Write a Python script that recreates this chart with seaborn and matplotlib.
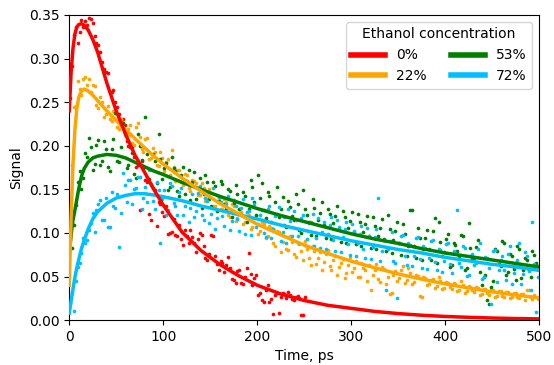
import matplotlib
matplotlib.use("Agg")
import matplotlib.pyplot as plt
import seaborn as sns
import pandas as pd

# measured points (ps): two interleaved sampling grids
t_pts = [1, 5, 9, 13, 17, 21, 25, 29, 33, 37,
         41, 45, 49, 53, 57, 61, 65, 69, 73, 77,
         81, 85, 89, 93, 97, 101, 105, 109, 113, 117,
         121, 125, 129, 133, 137, 141, 145, 149, 153, 157,
         161, 165, 169, 173, 177, 181, 185, 189, 193, 197,
         201, 205, 209, 213, 217, 221, 225, 229, 233, 237,
         241, 245, 249, 253, 257, 261, 265, 269, 273, 277,
         281, 285, 289, 293, 297, 301, 305, 309, 313, 317,
         321, 325, 329, 333, 337, 341, 345, 349, 353, 357,
         361, 365, 369, 373, 377, 381, 385, 389, 393, 397,
         401, 405, 409, 413, 417, 421, 425, 429, 433, 437,
         441, 445, 449, 453, 457, 461, 465, 469, 473, 477,
         481, 485, 489, 493, 497]
t_pts2 = [3, 7, 11, 15, 19, 23, 27, 31, 35, 39,
          43, 47, 51, 55, 59, 63, 67, 71, 75, 79,
          83, 87, 91, 95, 99, 103, 107, 111, 115, 119,
          123, 127, 131, 135, 139, 143, 147, 151, 155, 159,
          163, 167, 171, 175, 179, 183, 187, 191, 195, 199,
          203, 207, 211, 215, 219, 223, 227, 231, 235, 239,
          243, 247, 251, 255, 259, 263, 267, 271, 275, 279,
          283, 287, 291, 295, 299, 303, 307, 311, 315, 319,
          323, 327, 331, 335, 339, 343, 347, 351, 355, 359,
          363, 367, 371, 375, 379, 383, 387, 391, 395, 399,
          403, 407, 411, 415, 419, 423, 427, 431, 435, 439,
          443, 447, 451, 455, 459, 463, 467, 471, 475, 479,
          483, 487, 491, 495, 499]

sig_0 = [0.255, 0.327, 0.318, 0.344, 0.343, 0.347, 0.341, 0.318, 0.307, 0.288,
         0.283, 0.262, 0.250, 0.236, 0.231, 0.205, 0.213, 0.187, 0.178, 0.183,
         0.161, 0.122, 0.152, 0.108, 0.133, 0.119, 0.099, 0.101, 0.098, 0.109,
         0.086, 0.097, 0.103, 0.089, 0.093, 0.098, 0.071, 0.076, 0.097, 0.064,
         0.068, 0.055, 0.072, 0.047, 0.043, 0.058, 0.041, 0.060, 0.053, 0.048,
         0.029, 0.023, 0.034, 0.021, 0.007, 0.031, 0.026, 0.030, 0.032, 0.024,
         0.026, 0.025, 0.006]
sig_0b = [0.292, 0.336, 0.331, 0.336, 0.338, 0.345, 0.326, 0.315, 0.296, 0.285,
          0.262, 0.264, 0.244, 0.230, 0.224, 0.200, 0.199, 0.176, 0.126, 0.175,
          0.158, 0.115, 0.149, 0.135, 0.124, 0.131, 0.100, 0.116, 0.096, 0.093,
          0.103, 0.089, 0.095, 0.078, 0.100, 0.085, 0.069, 0.098, 0.074, 0.058,
          0.066, 0.063, 0.060, 0.046, 0.056, 0.042, 0.050, 0.077, 0.040, 0.052,
          0.031, 0.021, 0.040, 0.024, 0.029, 0.008, 0.031, 0.025, 0.029, 0.023,
          0.028, 0.006, 0.027]

sig_22 = [0.102, 0.244, 0.274, 0.258, 0.279, 0.276, 0.270, 0.247, 0.256, 0.233,
          0.246, 0.228, 0.237, 0.219, 0.226, 0.212, 0.224, 0.201, 0.226, 0.196,
          0.208, 0.185, 0.197, 0.178, 0.193, 0.171, 0.185, 0.195, 0.160, 0.172,
          0.155, 0.166, 0.148, 0.160, 0.143, 0.157, 0.137, 0.150, 0.131, 0.144,
          0.127, 0.139, 0.121, 0.133, 0.114, 0.128, 0.110, 0.124, 0.104, 0.117,
          0.099, 0.112, 0.094, 0.108, 0.089, 0.102, 0.078, 0.096, 0.080, 0.090,
          0.072, 0.087, 0.069, 0.082, 0.063, 0.079, 0.071, 0.058, 0.076, 0.062,
          0.069, 0.052, 0.066, 0.048, 0.063, 0.055, 0.068, 0.050, 0.060, 0.045,
          0.034, 0.058, 0.047, 0.061, 0.041, 0.030, 0.052, 0.045, 0.058, 0.043,
          0.060, 0.041, 0.052, 0.028, 0.049, 0.040, 0.046, 0.037, 0.050, 0.036,
          0.044, 0.038, 0.042, 0.033, 0.045, 0.031, 0.039, 0.034, 0.038, 0.029,
          0.036, 0.031, 0.035, 0.027, 0.033, 0.028, 0.032, 0.025, 0.031, 0.027,
          0.030, 0.023, 0.034, 0.024, 0.027]
sig_22b = [0.178, 0.246, 0.265, 0.277, 0.270, 0.262, 0.268, 0.243, 0.250, 0.236,
           0.231, 0.240, 0.221, 0.231, 0.212, 0.219, 0.203, 0.221, 0.210, 0.193,
           0.209, 0.186, 0.193, 0.177, 0.186, 0.181, 0.166, 0.176, 0.172, 0.158,
           0.168, 0.152, 0.161, 0.157, 0.144, 0.151, 0.139, 0.146, 0.131, 0.140,
           0.128, 0.136, 0.118, 0.131, 0.117, 0.124, 0.112, 0.121, 0.107, 0.118,
           0.102, 0.110, 0.096, 0.106, 0.085, 0.101, 0.090, 0.082, 0.097, 0.076,
           0.088, 0.079, 0.091, 0.071, 0.085, 0.064, 0.078, 0.067, 0.080, 0.057,
           0.074, 0.061, 0.070, 0.054, 0.072, 0.060, 0.049, 0.066, 0.057, 0.063,
           0.052, 0.064, 0.044, 0.059, 0.050, 0.031, 0.056, 0.048, 0.062, 0.046,
           0.054, 0.044, 0.051, 0.027, 0.048, 0.041, 0.047, 0.039, 0.045, 0.037,
           0.043, 0.036, 0.041, 0.034, 0.040, 0.033, 0.038, 0.032, 0.037, 0.030,
           0.036, 0.029, 0.034, 0.028, 0.033, 0.027, 0.032, 0.026, 0.031, 0.025,
           0.030, 0.035, 0.026, 0.029, 0.024]

sig_53 = [0.095, 0.109, 0.158, 0.150, 0.192, 0.209, 0.172, 0.201, 0.178, 0.205,
          0.176, 0.196, 0.237, 0.181, 0.226, 0.174, 0.199, 0.168, 0.213, 0.184,
          0.233, 0.162, 0.190, 0.157, 0.185, 0.175, 0.149, 0.187, 0.171, 0.142,
          0.176, 0.160, 0.138, 0.170, 0.152, 0.129, 0.166, 0.139, 0.158, 0.125,
          0.160, 0.133, 0.150, 0.118, 0.155, 0.128, 0.147, 0.113, 0.161, 0.135,
          0.166, 0.157, 0.117, 0.142, 0.104, 0.153, 0.128, 0.109, 0.137, 0.119,
          0.145, 0.103, 0.149, 0.121, 0.098, 0.129, 0.115, 0.136, 0.094, 0.122,
          0.111, 0.131, 0.090, 0.118, 0.106, 0.124, 0.087, 0.113, 0.101, 0.119,
          0.083, 0.108, 0.097, 0.116, 0.079, 0.105, 0.092, 0.112, 0.075, 0.099,
          0.085, 0.126, 0.071, 0.094, 0.081, 0.103, 0.069, 0.117, 0.112, 0.074,
          0.093, 0.061, 0.088, 0.079, 0.098, 0.057, 0.111, 0.070, 0.084, 0.055,
          0.049, 0.023, 0.038, 0.082, 0.064, 0.091, 0.052, 0.076, 0.059, 0.085,
          0.048, 0.071, 0.057, 0.079, 0.066]
sig_53b = [0.083, 0.132, 0.171, 0.163, 0.187, 0.199, 0.179, 0.207, 0.183, 0.196,
           0.171, 0.208, 0.183, 0.199, 0.215, 0.178, 0.192, 0.163, 0.200, 0.176,
           0.191, 0.155, 0.183, 0.214, 0.162, 0.180, 0.153, 0.174, 0.148, 0.167,
           0.145, 0.172, 0.158, 0.139, 0.163, 0.145, 0.158, 0.131, 0.154, 0.137,
           0.156, 0.127, 0.148, 0.134, 0.145, 0.121, 0.142, 0.127, 0.153, 0.120,
           0.140, 0.126, 0.147, 0.112, 0.135, 0.118, 0.141, 0.107, 0.130, 0.115,
           0.133, 0.100, 0.127, 0.112, 0.139, 0.097, 0.123, 0.109, 0.128, 0.093,
           0.119, 0.105, 0.125, 0.089, 0.114, 0.101, 0.122, 0.085, 0.110, 0.097,
           0.118, 0.081, 0.106, 0.093, 0.120, 0.077, 0.102, 0.089, 0.110, 0.073,
           0.126, 0.085, 0.106, 0.069, 0.094, 0.081, 0.102, 0.066, 0.090, 0.078,
           0.099, 0.063, 0.086, 0.074, 0.096, 0.060, 0.083, 0.071, 0.092, 0.040,
           0.052, 0.018, 0.045, 0.079, 0.062, 0.088, 0.055, 0.073, 0.046, 0.081,
           0.058, 0.069, 0.050, 0.075, 0.062]

sig_72 = [0.020, 0.011, 0.061, 0.077, 0.089, 0.103, 0.123, 0.126, 0.138, 0.115,
          0.107, 0.147, 0.129, 0.084, 0.169, 0.135, 0.161, 0.150, 0.164, 0.128,
          0.153, 0.172, 0.137, 0.158, 0.088, 0.149, 0.126, 0.154, 0.131, 0.147,
          0.120, 0.158, 0.129, 0.118, 0.146, 0.121, 0.140, 0.111, 0.152, 0.117,
          0.136, 0.108, 0.142, 0.114, 0.131, 0.102, 0.139, 0.124, 0.098, 0.133,
          0.110, 0.126, 0.095, 0.131, 0.104, 0.122, 0.091, 0.118, 0.127, 0.097,
          0.115, 0.088, 0.121, 0.093, 0.112, 0.085, 0.117, 0.101, 0.081, 0.109,
          0.092, 0.115, 0.078, 0.104, 0.087, 0.110, 0.074, 0.099, 0.082, 0.106,
          0.070, 0.095, 0.140, 0.079, 0.034, 0.091, 0.068, 0.025, 0.097, 0.073,
          0.088, 0.062, 0.094, 0.070, 0.085, 0.059, 0.091, 0.067, 0.082, 0.055,
          0.087, 0.064, 0.079, 0.126, 0.061, 0.083, 0.052, 0.076, 0.066, 0.089,
          0.049, 0.071, 0.018, 0.080, 0.058, 0.074, 0.046, 0.085, 0.054, 0.069,
          0.041, 0.078, 0.056, 0.112, 0.009]
sig_72b = [0.031, 0.045, 0.065, 0.094, 0.092, 0.111, 0.101, 0.133, 0.115, 0.140,
           0.107, 0.131, 0.145, 0.123, 0.155, 0.161, 0.133, 0.152, 0.164, 0.140,
           0.135, 0.156, 0.127, 0.149, 0.139, 0.121, 0.157, 0.134, 0.120, 0.151,
           0.131, 0.112, 0.145, 0.125, 0.154, 0.115, 0.137, 0.122, 0.105, 0.141,
           0.119, 0.133, 0.103, 0.138, 0.116, 0.129, 0.099, 0.125, 0.140, 0.107,
           0.121, 0.100, 0.128, 0.094, 0.119, 0.130, 0.101, 0.089, 0.114, 0.125,
           0.096, 0.117, 0.086, 0.111, 0.122, 0.094, 0.083, 0.113, 0.099, 0.118,
           0.079, 0.107, 0.095, 0.112, 0.075, 0.102, 0.089, 0.108, 0.071, 0.097,
           0.084, 0.104, 0.068, 0.092, 0.081, 0.101, 0.066, 0.089, 0.098, 0.063,
           0.086, 0.074, 0.095, 0.060, 0.083, 0.071, 0.092, 0.057, 0.080, 0.068,
           0.088, 0.054, 0.077, 0.066, 0.085, 0.051, 0.074, 0.063, 0.082, 0.047,
           0.072, 0.060, 0.079, 0.044, 0.069, 0.057, 0.076, 0.041, 0.066, 0.089,
           0.053, 0.073, 0.035, 0.064, 0.050]

# fitted curves
t_fit = [0, 2, 4, 6, 8, 10, 13, 16, 20, 25, 30, 40, 50, 60, 70, 80, 90, 100,
         120, 140, 160, 180, 200, 225, 250, 275, 300, 325, 350, 375, 400, 425,
         450, 475, 500]
fit_0 = [0.240, 0.285, 0.312, 0.328, 0.336, 0.339, 0.340, 0.338, 0.333, 0.322,
         0.308, 0.272, 0.240, 0.213, 0.189, 0.170, 0.150, 0.132, 0.101, 0.080,
         0.064, 0.051, 0.040, 0.030, 0.0225, 0.017, 0.0135, 0.010, 0.0075,
         0.0056, 0.0042, 0.0032, 0.0024, 0.0018, 0.0014]
fit_22 = [0.040, 0.120, 0.180, 0.218, 0.242, 0.255, 0.263, 0.265, 0.263, 0.258,
          0.252, 0.240, 0.229, 0.218, 0.208, 0.198, 0.188, 0.179, 0.163, 0.148,
          0.134, 0.122, 0.110, 0.098, 0.086, 0.0765, 0.0676, 0.060, 0.053,
          0.047, 0.0416, 0.0368, 0.0325, 0.0288, 0.0255]
fit_53 = [0.075, 0.098, 0.115, 0.126, 0.138, 0.150, 0.165, 0.174, 0.181, 0.186,
          0.188, 0.190, 0.189, 0.186, 0.181, 0.176, 0.171, 0.167, 0.158, 0.150,
          0.142, 0.135, 0.128, 0.120, 0.113, 0.106, 0.099, 0.093, 0.088, 0.082,
          0.077, 0.073, 0.069, 0.065, 0.061]
fit_72 = [0.008, 0.022, 0.036, 0.049, 0.060, 0.069, 0.082, 0.092, 0.104, 0.116,
          0.124, 0.134, 0.140, 0.143, 0.145, 0.145, 0.1435, 0.1415, 0.137, 0.131,
          0.126, 0.121, 0.116, 0.109, 0.103, 0.097, 0.091, 0.086, 0.081, 0.077,
          0.072, 0.068, 0.064, 0.061, 0.057]

labels = ['0%', '22%', '53%', '72%']
colors = ['red', 'orange', 'green', 'deepskyblue']
points = [
    (t_pts[:len(sig_0)] + t_pts2[:len(sig_0b)], sig_0 + sig_0b),
    (t_pts + t_pts2, sig_22 + sig_22b),
    (t_pts + t_pts2, sig_53 + sig_53b),
    (t_pts + t_pts2, sig_72 + sig_72b),
]
fits = [fit_0, fit_22, fit_53, fit_72]

fig, ax = plt.subplots(figsize=(5.54, 3.65), dpi=100)
fig.subplots_adjust(left=0.125, right=0.973, top=0.959, bottom=0.123)

for (tt, yy), c in zip(points, colors):
    df = pd.DataFrame({'t': tt, 'y': yy})
    sns.scatterplot(data=df, x='t', y='y', color=c, s=7, linewidth=0, ax=ax, zorder=2)

# red on top of the other curves
line_z = [6, 5, 4, 3]
for fit, c, lab, z in zip(fits, colors, labels, line_z):
    df = pd.DataFrame({'t': t_fit, 'y': fit})
    sns.lineplot(data=df, x='t', y='y', color=c, linewidth=2.5, label=lab, ax=ax, zorder=z)

ax.set_xlim(0, 500)
ax.set_ylim(0, 0.35)
ax.set_xlabel('Time, ps')
ax.set_ylabel('Signal')

leg = ax.legend(title='Ethanol concentration', ncol=2, loc='upper right',
                fontsize=10, title_fontsize=10, handlelength=2.4, columnspacing=1.8)
for line in leg.get_lines():
    line.set_linewidth(4)

plt.savefig('out.png', dpi=100)
